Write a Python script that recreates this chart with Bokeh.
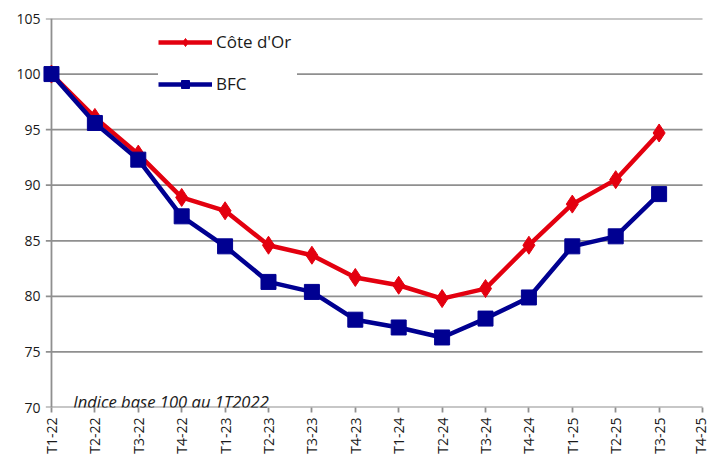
import math
from bokeh.plotting import figure
from bokeh.models import (ColumnDataSource, FixedTicker, Legend, LegendItem, Label)
from bokeh.embed import file_html
from bokeh.resources import INLINE

categories = ["T1-22", "T2-22", "T3-22", "T4-22", "T1-23", "T2-23", "T3-23", "T4-23",
              "T1-24", "T2-24", "T3-24", "T4-24", "T1-25", "T2-25", "T3-25", "T4-25"]
cote_dor = [100, 96.1, 92.8, 88.9, 87.7, 84.6, 83.7, 81.7, 81.0, 79.8, 80.7, 84.6, 88.3, 90.5, 94.7]
bfc = [100, 95.6, 92.3, 87.2, 84.5, 81.3, 80.4, 77.9, 77.2, 76.3, 78.0, 79.9, 84.5, 85.4, 89.2]
y_ticks = [70, 75, 80, 85, 90, 95, 100, 105]
series_names = ["Côte d'Or", "BFC"]
note = "Indice base 100 au 1T2022"

FONT = "Open Sans"
RED = "#E3000F"
BLUE = "#000091"
GRID = "#8f8f8f"
TXT = "#1a1a1a"

n = len(categories)
xs = list(range(n))

p = figure(width=709, height=459, output_backend="svg", toolbar_location=None,
           x_range=(-0.207, (n - 1) + 0.161), y_range=(y_ticks[0], y_ticks[-1]),
           min_border_left=42, min_border_right=0, min_border_top=18, min_border_bottom=52)
p.outline_line_color = None
p.xgrid.visible = False
p.ygrid.visible = False

# horizontal grid lines (with small tick crossing left of the y axis)
p.segment(x0=[-0.13] * len(y_ticks), y0=y_ticks, x1=[n - 1] * len(y_ticks), y1=y_ticks,
          line_color=GRID, line_width=1.8)
# y axis line at first category
p.segment(x0=[0], y0=[y_ticks[0]], x1=[0], y1=[y_ticks[-1]], line_color=GRID, line_width=1.8)

# x axis
xa = p.xaxis[0]
xa.ticker = FixedTicker(ticks=xs)
xa.major_label_overrides = {i: c for i, c in enumerate(categories)}
xa.major_label_orientation = math.pi / 2
xa.axis_line_color = None
xa.major_tick_line_color = GRID
xa.major_tick_line_width = 1.8
xa.major_tick_out = 5
xa.major_tick_in = 0
xa.minor_tick_line_color = None
xa.major_label_standoff = 5
xa.major_label_text_font = FONT
xa.major_label_text_font_size = "14px"
xa.major_label_text_color = TXT

ya = p.yaxis[0]
ya.ticker = FixedTicker(ticks=y_ticks)
ya.axis_line_color = None
ya.major_tick_line_color = None
ya.major_tick_out = 0
ya.major_tick_in = 0
ya.minor_tick_line_color = None
ya.major_label_standoff = 2
ya.major_label_text_font = FONT
ya.major_label_text_font_size = "14px"
ya.major_label_text_color = TXT

src_r = ColumnDataSource(dict(x=xs[:len(cote_dor)], y=cote_dor))
src_b = ColumnDataSource(dict(x=xs[:len(bfc)], y=bfc))

lr = p.line("x", "y", source=src_r, line_color=RED, line_width=4.5)
sr = p.scatter("x", "y", source=src_r, marker="diamond", size=18, fill_color=RED, line_color=RED)
lb = p.line("x", "y", source=src_b, line_color=BLUE, line_width=4.5)
sb = p.scatter("x", "y", source=src_b, marker="square", size=15, fill_color=BLUE, line_color=BLUE)

legend = Legend(items=[LegendItem(label=series_names[0], renderers=[lr, sr]),
                       LegendItem(label=series_names[1], renderers=[lb, sb])],
                location=(116, 312), orientation="vertical",
                glyph_width=54, glyph_height=20, label_height=20, label_width=81,
                label_standoff=4, spacing=19, padding=11, margin=0,
                border_line_color=None, background_fill_color="white", background_fill_alpha=1,
                label_text_font=FONT, label_text_font_size="17px", label_text_color=TXT)
p.add_layout(legend, "center")

p.add_layout(Label(x=0.5, y=y_ticks[0] + 0.55, text=note, text_font=FONT,
                   text_font_size="16.6px", text_font_style="italic", text_color=TXT,
                   text_baseline="alphabetic"))

open("out.html", "w").write(file_html(p, INLINE))
